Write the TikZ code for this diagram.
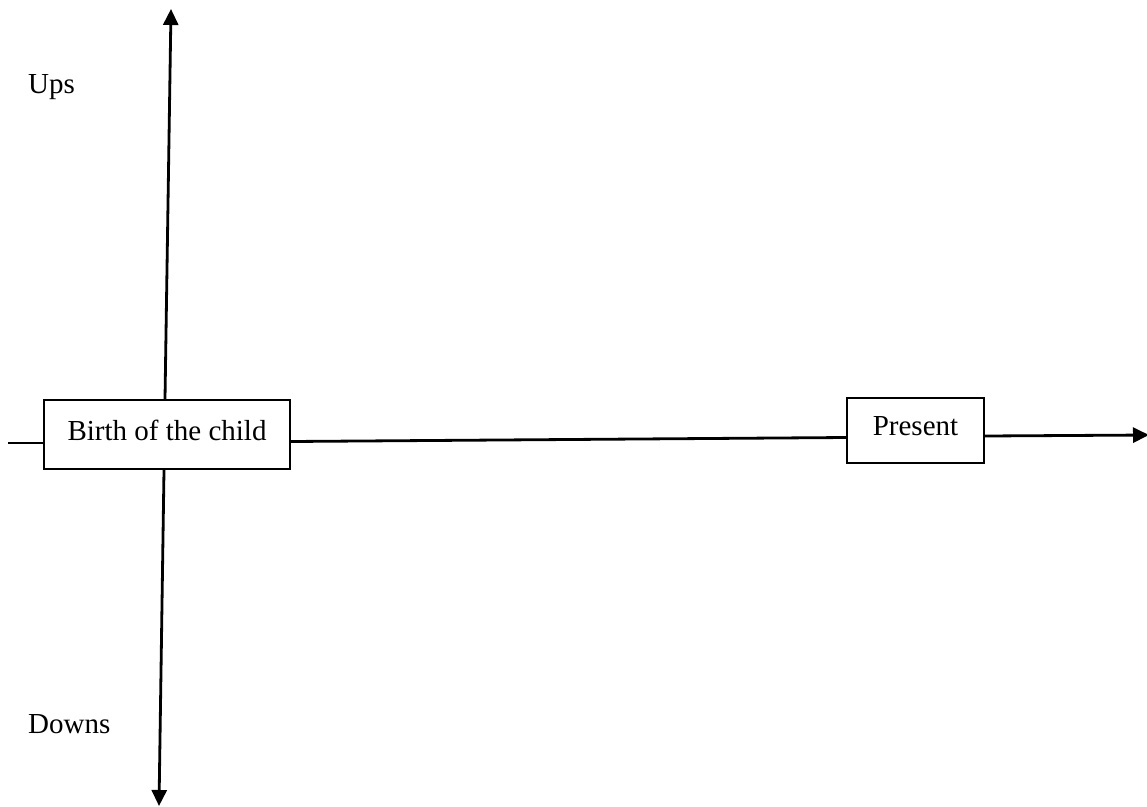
\documentclass[tikz,border=0pt]{standalone}
\usepackage{fontspec}
\setmainfont{Liberation Serif}
\usetikzlibrary{arrows.meta}
\begin{document}
\begin{tikzpicture}[x=1pt,y=-1pt,
  axis/.style={line width=2.8pt,-{Triangle[width=15pt,length=16pt]}},
  seg/.style={line width=2.8pt},
  box/.style={draw,line width=2.2pt,fill=white,inner sep=0pt,font=\fontsize{29}{34}\selectfont},
  lbl/.style={anchor=base west,inner sep=0pt,font=\fontsize{29}{34}\selectfont}]
\useasboundingbox (0,0) rectangle (1147,806);
\coordinate (top) at (171,9);
\coordinate (bot) at (159,806);
\coordinate (l0) at (8,443);
\coordinate (r0) at (1149,435);
\node[box,minimum width=246pt,text height=40pt,text depth=29pt] (birth) at (167,434.5) {Birth of the child};
\node[box,minimum width=137pt,text height=37pt,text depth=28pt] (present) at (915.5,430.5) {Present};
\draw[axis] (birth.north -| 165,0) -- (top);
\draw[axis] (birth.south -| 164,0) -- (bot);
\draw[seg] (l0) -- (l0 -| birth.west);
\draw[seg] (birth.east |- 0,441.5) -- (present.west |- 0,437.5);
\draw[axis] (present.east |- 0,436) -- (r0);
\node[lbl] (ups) at (28,93) {Ups};
\node[lbl] (downs) at (28,733) {Downs};
\end{tikzpicture}
\end{document}
